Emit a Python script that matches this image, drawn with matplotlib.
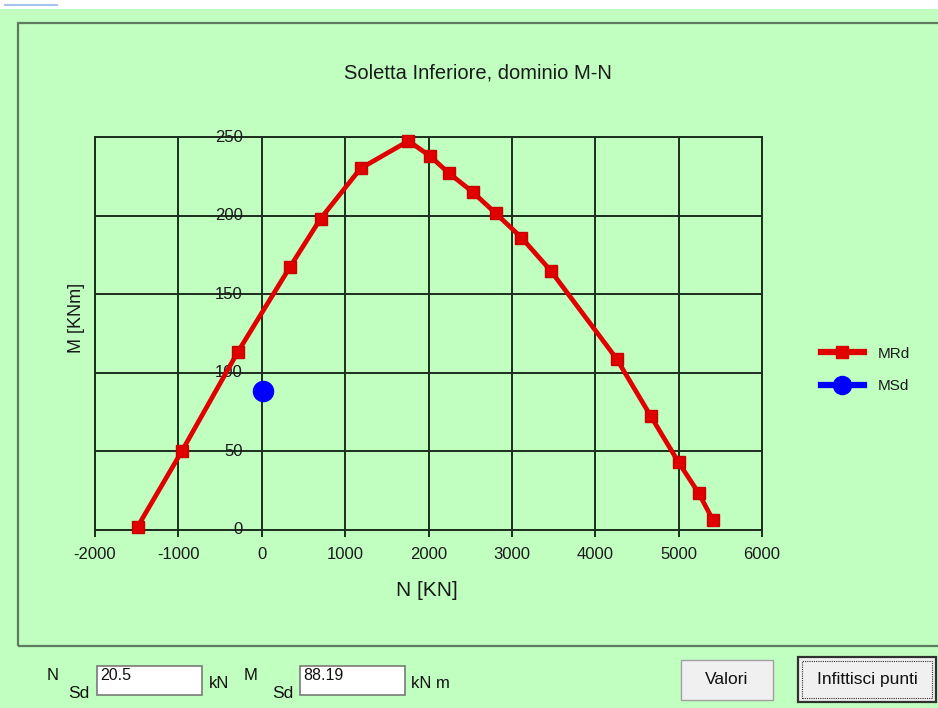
import matplotlib
matplotlib.use("Agg")
import matplotlib.pyplot as plt
from matplotlib.patches import Rectangle
from matplotlib.lines import Line2D
from matplotlib.transforms import ScaledTranslation

# ---- data ----
N_rd = [-1490, -960, -290, 335, 705, 1185, 1760, 2015, 2245, 2530, 2805, 3115, 3465, 4255, 4665, 5000, 5240, 5410]
M_rd = [2, 50, 113, 167, 198, 230, 247.5, 238, 227, 215, 201.5, 186, 165, 109, 72.5, 43, 23.5, 6.5]
N_sd = [20.5]
M_sd = [88.19]
x_ticks = [-2000, -1000, 0, 1000, 2000, 3000, 4000, 5000, 6000]
y_ticks = [0, 50, 100, 150, 200, 250]
title = "Soletta Inferiore, dominio M-N"
series_names = ["MRd", "MSd"]

W, H = 938, 708
BG = "#C0FFC0"
GRID = "#1c2e1c"
FONT = ["Liberation Sans", "DejaVu Sans"]
plt.rcParams["font.family"] = FONT
plt.rcParams["axes.unicode_minus"] = False

fig = plt.figure(figsize=(W / 100, H / 100), dpi=100)
fig.patch.set_facecolor(BG)

def X(x):
    return x / W

def Y(y):
    return 1 - y / H

# window chrome
fig.add_artist(Rectangle((0, Y(9)), 1, 9 / H, transform=fig.transFigure,
                         facecolor="white", edgecolor="none"))
fig.add_artist(Line2D([X(5), X(57)], [Y(5), Y(5)], transform=fig.transFigure,
                      color="#a8c4ec", lw=1.5))
fig.add_artist(Rectangle((X(18), Y(646)), X(960) - X(18), (646 - 23) / H,
                         transform=fig.transFigure, facecolor="none",
                         edgecolor="#5f7a5f", lw=1.6))

# axes
L, R, T, B = 95, 762, 137, 530
ax = fig.add_axes([X(L), Y(B), (R - L) / W, (B - T) / H])
ax.set_facecolor(BG)
ax.set_xlim(x_ticks[0], x_ticks[-1])
ax.set_ylim(y_ticks[0], y_ticks[-1])
ax.set_xticks(x_ticks)
ax.set_yticks(y_ticks)
ax.grid(True, color=GRID, lw=1.4)
ax.set_axisbelow(True)
for s in ax.spines.values():
    s.set_color(GRID)
    s.set_linewidth(1.4)
ax.tick_params(axis="x", direction="out", length=5, width=1.4, color=GRID,
               labelsize=12, labelcolor="#1a1a1a", pad=7)
ax.tick_params(axis="y", length=0, labelleft=False)

# y tick labels drawn next to the N = 0 line
off = ax.transData + ScaledTranslation(-19 / 100, 0, fig.dpi_scale_trans)
for v in y_ticks:
    ax.text(0, v, str(v), transform=off, ha="right", va="center",
            fontsize=12, color="#1a1a1a", clip_on=False)

ax.plot(N_rd, M_rd, color="#e00000", lw=3.4, marker="s", ms=9,
        mec="#c80000", label=series_names[0], clip_on=False, zorder=3)
ax.plot(N_sd, M_sd, color="#0000ff", lw=3, marker="o", ms=14.5,
        ls="none", label=series_names[1], clip_on=False, zorder=4)

fig.text(X(478), Y(73), title, ha="center", va="center", fontsize=14.5,
         color="#1a1a1a")
fig.text(X(427), Y(590), "N [KN]", ha="center", va="center", fontsize=15,
         color="#1a1a1a")
fig.text(X(76), Y(318), "M [KNm]", ha="center", va="center", fontsize=13,
         rotation=90, color="#1a1a1a")

h1 = Line2D([], [], color="#e00000", lw=4.5, marker="s", ms=8)
h2 = Line2D([], [], color="#0000ff", lw=4.5, marker="o", ms=13)
leg = fig.legend([h1, h2], series_names, loc="center left",
                 bbox_to_anchor=(X(821), Y(370)), bbox_transform=fig.transFigure,
                 frameon=False, fontsize=11, handlelength=2.8,
                 handletextpad=0.9, labelspacing=1.2, borderpad=0,
                 borderaxespad=0)
for t in leg.get_texts():
    t.set_color("#1a1a1a")

# bottom controls
def textbox(x0, x1, y0, y1, txt):
    fig.add_artist(Rectangle((X(x0), Y(y1)), (x1 - x0) / W, (y1 - y0) / H,
                             transform=fig.transFigure, facecolor="white",
                             edgecolor="#7a7a7a", lw=1.2))
    fig.text(X(x0 + 3), Y(y0 + 9), txt, ha="left", va="center",
             fontsize=11.5, color="#111111")

def button(x0, x1, y0, y1, txt, focus=False):
    fig.add_artist(Rectangle((X(x0), Y(y1)), (x1 - x0) / W, (y1 - y0) / H,
                             transform=fig.transFigure, facecolor="#f0f0f0",
                             edgecolor="#303030" if focus else "#a0a0a0",
                             lw=1.6 if focus else 1.0))
    if focus:
        fig.add_artist(Rectangle((X(x0 + 4), Y(y1 - 4)), (x1 - x0 - 8) / W,
                                 (y1 - y0 - 8) / H, transform=fig.transFigure,
                                 facecolor="none", edgecolor="#303030",
                                 lw=0.8, ls=(0, (1, 1))))
    fig.text(X((x0 + x1) / 2), Y((y0 + y1) / 2), txt, ha="center",
             va="center", fontsize=12.5, color="#111111")

fig.text(X(53), Y(676), "N", ha="center", va="center", fontsize=12,
         color="#111111")
fig.text(X(79), Y(693), "Sd", ha="center", va="center", fontsize=12.5,
         color="#111111")
textbox(97, 202, 666, 695, "20.5")
fig.text(X(209), Y(683), "kN", ha="left", va="center", fontsize=12,
         color="#111111")
fig.text(X(251), Y(676), "M", ha="center", va="center", fontsize=12,
         color="#111111")
fig.text(X(283), Y(693), "Sd", ha="center", va="center", fontsize=12.5,
         color="#111111")
textbox(300, 405, 666, 695, "88.19")
fig.text(X(411), Y(683), "kN m", ha="left", va="center", fontsize=12,
         color="#111111")
button(681, 773, 660, 700, "Valori")
button(798, 936, 657, 702, "Infittisci punti", focus=True)

fig.savefig("out.png", dpi=100, facecolor=BG)
